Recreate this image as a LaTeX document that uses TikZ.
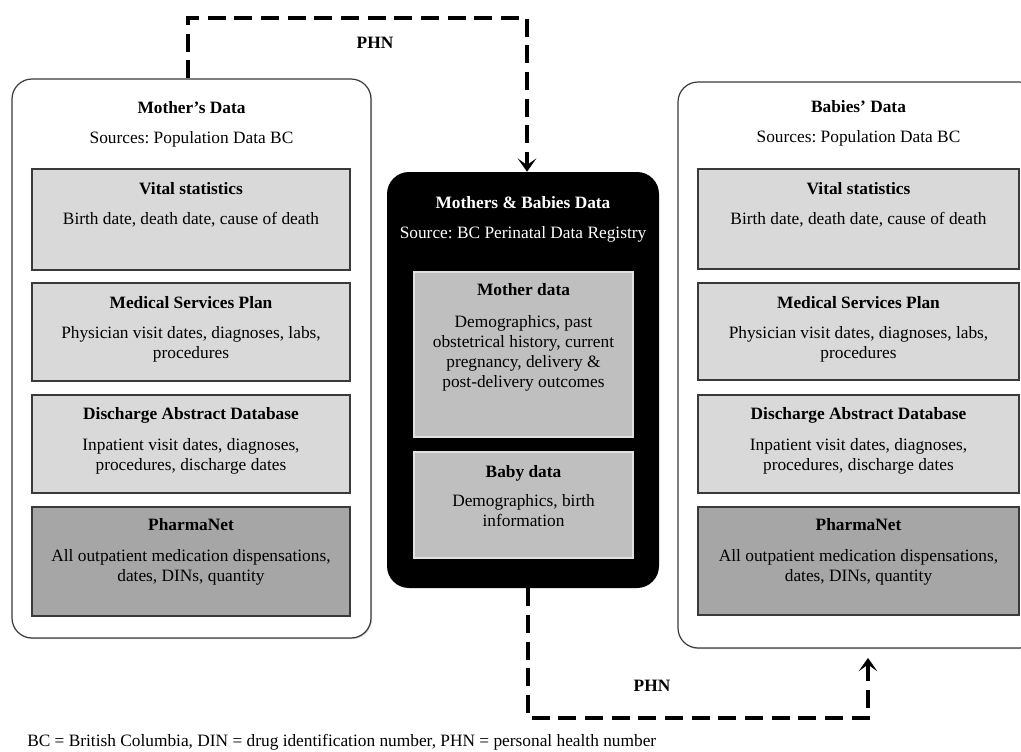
\documentclass[tikz,border=0pt]{standalone}
\usepackage{fontspec}
\setmainfont{Liberation Serif}
\usetikzlibrary{arrows.meta,shadows}
\definecolor{panelgrey}{HTML}{D9D9D9}
\definecolor{pharmagrey}{HTML}{A6A6A6}
\definecolor{midgrey}{HTML}{BFBFBF}
\definecolor{edgegrey}{HTML}{3A3A3A}
\frenchspacing
\tikzstyle{none}=[inner sep=0pt]
\tikzstyle{txt}=[inner sep=0pt, align=center, anchor=north, font=\fontsize{13}{15}\selectfont]
\tikzstyle{outer}=[draw=edgegrey, line width=0.9pt, fill=white, rounded corners=15pt, inner sep=0pt,
  drop shadow={shadow xshift=0.8pt, shadow yshift=-0.8pt, opacity=0.35}]
\tikzstyle{panel}=[draw=edgegrey, line width=0.9pt, fill=panelgrey, inner sep=0pt,
  drop shadow={shadow xshift=0.8pt, shadow yshift=-0.8pt, opacity=0.35}]
\tikzstyle{pharma}=[panel, fill=pharmagrey]
\tikzstyle{registry}=[fill=black, rounded corners=16.5pt, inner sep=0pt]
\tikzstyle{inner}=[draw=white!88!black, line width=0.8pt, fill=midgrey, inner sep=0pt]
\tikzstyle{link}=[-{Stealth[length=10pt,width=14pt,inset=5pt]}, line width=2.7pt, dash pattern=on 13.5pt off 6.5pt]

\begin{document}
\begin{tikzpicture}[x=0.75pt, y=-0.75pt]
  \clip (0,0) rectangle (1021,751);
  % outer boxes
  \node [style=outer, minimum width=269.25pt, minimum height=419.25pt] (mom) at (191.5, 358.5) {};
  \node [style=outer, minimum width=270.75pt, minimum height=424.5pt] (bab) at (858.5, 365) {};
  \node [style=registry, minimum width=204pt, minimum height=312pt] (reg) at (523, 380) {};
  % mother's panels
  \node [style=panel, minimum width=238.5pt, minimum height=75.75pt] (mvs) at (191, 219.5) {};
  \node [style=panel, minimum width=238.5pt, minimum height=73.5pt] (mmsp) at (191, 332) {};
  \node [style=panel, minimum width=238.5pt, minimum height=73.5pt] (mdad) at (191, 444) {};
  \node [style=pharma, minimum width=238.5pt, minimum height=81.75pt] (mpn) at (191, 561.5) {};
  % babies' panels
  \node [style=panel, minimum width=240.75pt, minimum height=75pt] (bvs) at (858.5, 219) {};
  \node [style=panel, minimum width=240.75pt, minimum height=72.75pt] (bmsp) at (858.5, 331.5) {};
  \node [style=panel, minimum width=240.75pt, minimum height=73.5pt] (bdad) at (858.5, 444) {};
  \node [style=pharma, minimum width=240.75pt, minimum height=81pt] (bpn) at (858.5, 561) {};
  % registry panels
  \node [style=inner, minimum width=164.25pt, minimum height=123.75pt] (rmd) at (523.5, 354.5) {};
  \node [style=inner, minimum width=164.25pt, minimum height=79.5pt] (rbd) at (523.5, 505) {};
  % headers
  \node [style=txt, yshift=-17pt] (momh) at (mom.north) {\textbf{Mother’s Data}\\[7.5pt]Sources: Population Data BC};
  \node [style=txt, yshift=-14pt] (babh) at (bab.north) {\textbf{Babies’ Data}\\[7.5pt]Sources: Population Data BC};
  \node [style=txt, yshift=-18pt, text=white] (regh) at (reg.north) {\textbf{Mothers \& Babies Data}\\[8pt]Source: BC Perinatal Data Registry};
  % panel texts
  \node [style=txt, yshift=-10pt] (mvst) at (mvs.north) {\textbf{Vital statistics}\\[7.5pt]Birth date, death date, cause of death};
  \node [style=txt, yshift=-10pt] (mmspt) at (mmsp.north) {\textbf{Medical Services Plan}\\[8pt]Physician visit dates, diagnoses, labs,\\procedures};
  \node [style=txt, yshift=-9.5pt] (mdadt) at (mdad.north) {\textbf{Discharge Abstract Database}\\[8pt]Inpatient visit dates, diagnoses,\\procedures, discharge dates};
  \node [style=txt, yshift=-9pt] (mpnt) at (mpn.north) {\textbf{PharmaNet}\\[8pt]All outpatient medication dispensations,\\dates, DINs, quantity};
  \node [style=txt, yshift=-10pt] (bvst) at (bvs.north) {\textbf{Vital statistics}\\[7.5pt]Birth date, death date, cause of death};
  \node [style=txt, yshift=-10pt] (bmspt) at (bmsp.north) {\textbf{Medical Services Plan}\\[8pt]Physician visit dates, diagnoses, labs,\\procedures};
  \node [style=txt, yshift=-9.5pt] (bdadt) at (bdad.north) {\textbf{Discharge Abstract Database}\\[8pt]Inpatient visit dates, diagnoses,\\procedures, discharge dates};
  \node [style=txt, yshift=-9pt] (bpnt) at (bpn.north) {\textbf{PharmaNet}\\[8pt]All outpatient medication dispensations,\\dates, DINs, quantity};
  \node [style=txt, yshift=-8.5pt] (rmdt) at (rmd.north) {\textbf{Mother data}\\[9.5pt]Demographics, past\\obstetrical history, current\\pregnancy, delivery \&\\post-delivery outcomes};
  \node [style=txt, yshift=-10pt] (rbdt) at (rbd.north) {\textbf{Baby data}\\[6.75pt]Demographics, birth\\information};
  % links
  \coordinate (t1) at (188, 18);
  \coordinate (t2) at (527, 18);
  \coordinate (b1) at (528, 718);
  \coordinate (b2) at (868, 718);
  \node [style=txt, anchor=center, font=\fontsize{13}{15}\selectfont\bfseries] (phn1) at (375, 43) {PHN};
  \node [style=txt, anchor=center, font=\fontsize{13}{15}\selectfont\bfseries] (phn2) at (652, 686) {PHN};
  \draw [style=link] (mom.north -| t1) to (t1.center) to (t2.center) to (reg.north -| t2);
  \draw [style=link, shorten >=7pt] (reg.south -| b1) to (b1.center) to (b2.center) to (bab.south -| b2);
  % footnote
  \node [style=txt, anchor=west] (note) at (27, 742) {BC = British Columbia, DIN = drug identification number, PHN = personal health number};
\end{tikzpicture}
\end{document}
